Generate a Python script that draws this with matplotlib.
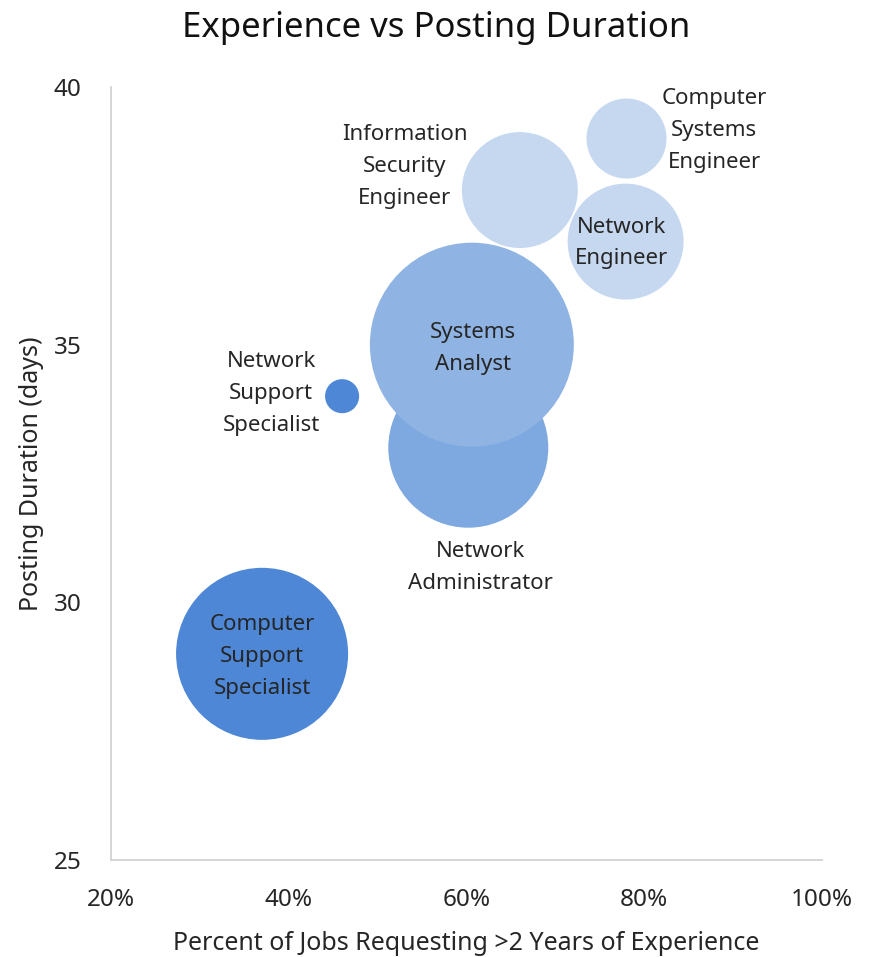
import matplotlib.pyplot as plt
from matplotlib.ticker import PercentFormatter

plt.rcParams['font.family'] = ['Noto Sans', 'DejaVu Sans']

# bubble data
jobs = ["Computer\nSupport\nSpecialist", "Network\nSupport\nSpecialist",
        "Network\nAdministrator", "Systems\nAnalyst",
        "Information\nSecurity\nEngineer", "Computer\nSystems\nEngineer",
        "Network\nEngineer"]
experience = [37, 46, 60.2, 60.6, 66, 78, 77.9]   # % of jobs requesting >2 yrs
duration = [29, 34, 33, 35, 38, 39, 37]            # posting duration, days
bubble_size = [7400, 290, 6400, 10400, 3360, 1600, 3360]
colors = ["#4d87d6", "#4d87d6", "#7ea8e0", "#8fb4e3", "#c5d8f0", "#c5d8f0", "#c5d8f0"]

# label offsets (points) from bubble centre
label_off = [(0, -2), (-51, 2), (9, -86), (1, -3), (-83, 17), (63, 6), (-3, -1)]

fig = plt.figure(figsize=(8.72, 9.57), dpi=100)
ax = fig.add_axes([0.1273, 0.1014, 0.8154, 0.8077])

for i in range(len(jobs)):
    ax.scatter(experience[i], duration[i], s=bubble_size[i] * 2.0736,
               color=colors[i], edgecolors='none', zorder=2 + i)
    ax.annotate(jobs[i], (experience[i], duration[i]), xytext=label_off[i],
                textcoords='offset points', ha='center', va='center',
                fontsize=16, color='#262626', linespacing=1.68, zorder=20)

ax.set_xlim(20, 100)
ax.set_ylim(25, 40)
ax.set_xticks([20, 40, 60, 80, 100])
ax.set_yticks([25, 30, 35, 40])
ax.xaxis.set_major_formatter(PercentFormatter(decimals=0))
ax.tick_params(length=0, labelsize=17.5, colors='#262626')
ax.tick_params(axis='x', pad=20)
ax.tick_params(axis='y', pad=21)
for s in ['top', 'right']:
    ax.spines[s].set_visible(False)
for s in ['left', 'bottom']:
    ax.spines[s].set_color('#d0d0d0')
    ax.spines[s].set_linewidth(1.2)

ax.set_xlabel("Percent of Jobs Requesting >2 Years of Experience", fontsize=18,
              color='#262626', labelpad=14)
ax.set_ylabel("Posting Duration (days)", fontsize=18, color='#262626', labelpad=7)
fig.suptitle("Experience vs Posting Duration", fontsize=25, color='#111111', y=0.988)

plt.savefig("out.png")
